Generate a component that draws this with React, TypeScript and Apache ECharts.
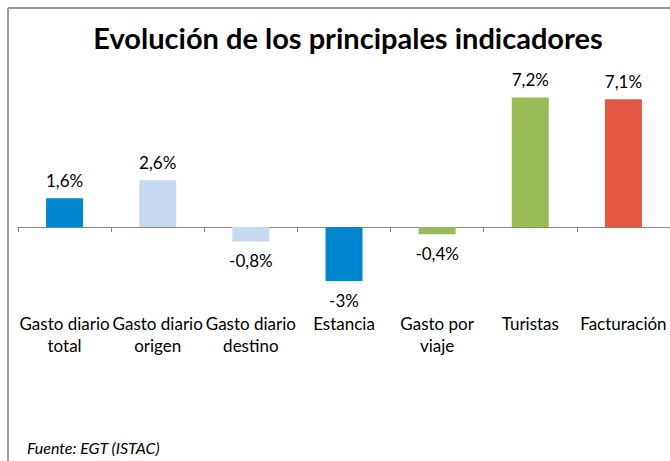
import React, { useEffect, useRef } from "react";
import * as echarts from "echarts";

const titleText = "Evolución de los principales indicadores";
const sourceText = "Fuente: EGT (ISTAC)";
const categories = [
  "Gasto diario\ntotal",
  "Gasto diario\norigen",
  "Gasto diario\ndestino",
  "Estancia",
  "Gasto por\nviaje",
  "Turistas",
  "Facturación",
];
const values = [1.6, 2.6, -0.8, -3, -0.4, 7.2, 7.1];
const colors = ["#0086CE", "#C6D9F1", "#C6D9F1", "#0086CE", "#9BBB59", "#9BBB59", "#E25842"];

const FONT = "Lato, 'Open Sans', sans-serif";

export default function App() {
  const ref = useRef<HTMLDivElement>(null);
  useEffect(() => {
    if (!ref.current) return;
    const chart = echarts.init(ref.current, undefined, { renderer: "svg" });
    chart.setOption({
      animation: false,
      backgroundColor: "#ffffff",
      textStyle: { fontFamily: FONT },
      graphic: [
        {
          type: "line",
          shape: { x1: 8, y1: 8, x2: 670, y2: 8 },
          style: { stroke: "#9a9a9a", lineWidth: 2 },
        },
        {
          type: "line",
          shape: { x1: 8, y1: 8, x2: 8, y2: 461 },
          style: { stroke: "#9a9a9a", lineWidth: 2 },
        },
        {
          type: "text",
          x: 348,
          y: 37,
          style: {
            text: titleText,
            font: `bold 29px ${FONT}`,
            fill: "#000",
            textAlign: "center",
            textVerticalAlign: "middle",
          },
        },
        {
          type: "text",
          x: 27,
          y: 447,
          style: {
            text: sourceText,
            font: `italic 16px ${FONT}`,
            fill: "#000",
            textAlign: "left",
            textVerticalAlign: "middle",
          },
        },
      ],
      grid: { left: 18, width: 654, top: 83, height: 216 },
      xAxis: {
        type: "category",
        data: categories,
        axisLine: { onZero: true, lineStyle: { color: "#868686", width: 1 } },
        axisTick: { show: true, length: 5, lineStyle: { color: "#868686" } },
        axisLabel: {
          interval: 0,
          margin: 13,
          fontSize: 17,
          lineHeight: 22,
          color: "#000",
          fontFamily: FONT,
        },
      },
      yAxis: {
        type: "value",
        min: -4,
        max: 8,
        interval: 2,
        show: false,
        splitLine: { show: false },
      },
      series: [
        {
          type: "bar",
          barWidth: 37,
          data: values.map((v, i) => ({
            value: v,
            itemStyle: { color: colors[i] },
            label: {
              show: true,
              position: v >= 0 ? "top" : "bottom",
              distance: v >= 0 ? 9 : 11,
            },
          })),
          label: {
            show: true,
            fontSize: 17,
            color: "#000",
            fontFamily: FONT,
            formatter: (p: any) => String(p.value).replace(".", ",") + "%",
          },
        },
      ],
    });
    return () => chart.dispose();
  }, []);
  return (
    <div
      ref={ref}
      style={{ position: "fixed", left: 0, top: 0, width: 670, height: 461 }}
    />
  );
}
